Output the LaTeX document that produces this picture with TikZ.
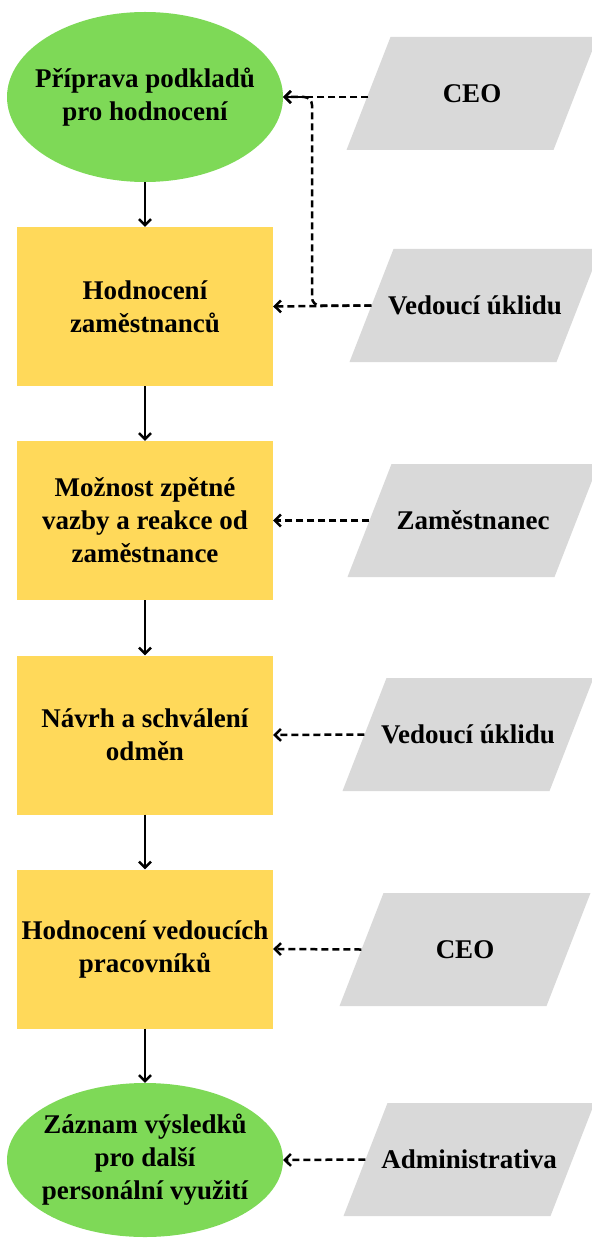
\documentclass[tikz,border=0pt]{standalone}
\usepackage{fontspec}
\setmainfont{Liberation Serif}
\usetikzlibrary{shapes.geometric,arrows.meta}
\definecolor{grn}{RGB}{126,217,87}
\definecolor{ylw}{RGB}{255,217,90}
\definecolor{gry}{RGB}{217,217,217}
\tikzset{
  txt/.style={font=\fontsize{27}{33}\selectfont\bfseries, align=center, text=black},
  oval/.style={txt, ellipse, fill=grn, minimum width=276pt, minimum height=170pt, inner xsep=-45pt, inner ysep=-30pt},
  stepbox/.style={txt, rectangle, fill=ylw, minimum width=256pt, minimum height=159pt, inner sep=0pt},
  iotext/.style={txt, rectangle, minimum width=207pt, minimum height=113pt, inner sep=0pt},
  tip/.style={-{Straight Barb[length=6pt,width=12pt,line width=2.5pt]}},
  flow/.style={line width=2.5pt, tip},
  dasharr/.style={line width=2.5pt, dash pattern=on 7pt off 4pt, tip}
}
% parallelogram: name, x, y, text
\newcommand{\iobox}[4]{%
  \fill[gry] (#2,#3) ++(-81.5,-56.5) -- ++(207,0) -- ++(-44,113) -- ++(-207,0) -- cycle;
  \node[iotext] (#1) at (#2,#3) {#4};}
\begin{document}
\begin{tikzpicture}[x=1pt,y=-1pt]
\useasboundingbox (0,0) rectangle (591,1238);
\node[oval] (top) at (145,97) {Příprava podkladů\\pro hodnocení};
\node[stepbox] (r1) at (145,306.5) {Hodnocení\\zaměstnanců};
\node[stepbox] (r2) at (145,520.5) {Možnost zpětné\\vazby a reakce od\\zaměstnance};
\node[stepbox] (r3) at (145,735) {Návrh a schválení\\odměn};
\node[stepbox] (r4) at (145,949) {Hodnocení vedoucích\\pracovníků};
\node[oval, minimum height=154pt, inner ysep=-45pt] (bot) at (145,1160) {Záznam výsledků\\pro další\\personální využití};

\iobox{ceo1}{472}{93.5}{CEO}
\iobox{ved1}{475}{305.5}{Vedoucí úklidu}
\iobox{zam}{473}{520.5}{Zaměstnanec}
\iobox{ved2}{468}{734.5}{Vedoucí úklidu}
\iobox{ceo2}{465}{949.5}{CEO}
\iobox{adm}{469}{1159.5}{Administrativa}

\coordinate (j) at (312,97);

\draw[flow] (top) -- (r1);
\draw[flow] (r1) -- (r2);
\draw[flow] (r2) -- (r3);
\draw[flow] (r3) -- (r4);
\draw[flow] (r4) -- (bot);

\draw[dasharr] (ceo1.west |- top.east) -- (top.east);
\draw[dasharr, rounded corners=8pt] (ved1.west) -| (j) -- (top.east);
\draw[dasharr] (ved1.west) -- (r1.east);
\draw[dasharr] (zam.west) -- (r2.east);
\draw[dasharr] (ved2.west) -- (r3.east);
\draw[dasharr] (ceo2.west) -- (r4.east);
\draw[dasharr] (adm.west) -- (bot.east);
\end{tikzpicture}
\end{document}
